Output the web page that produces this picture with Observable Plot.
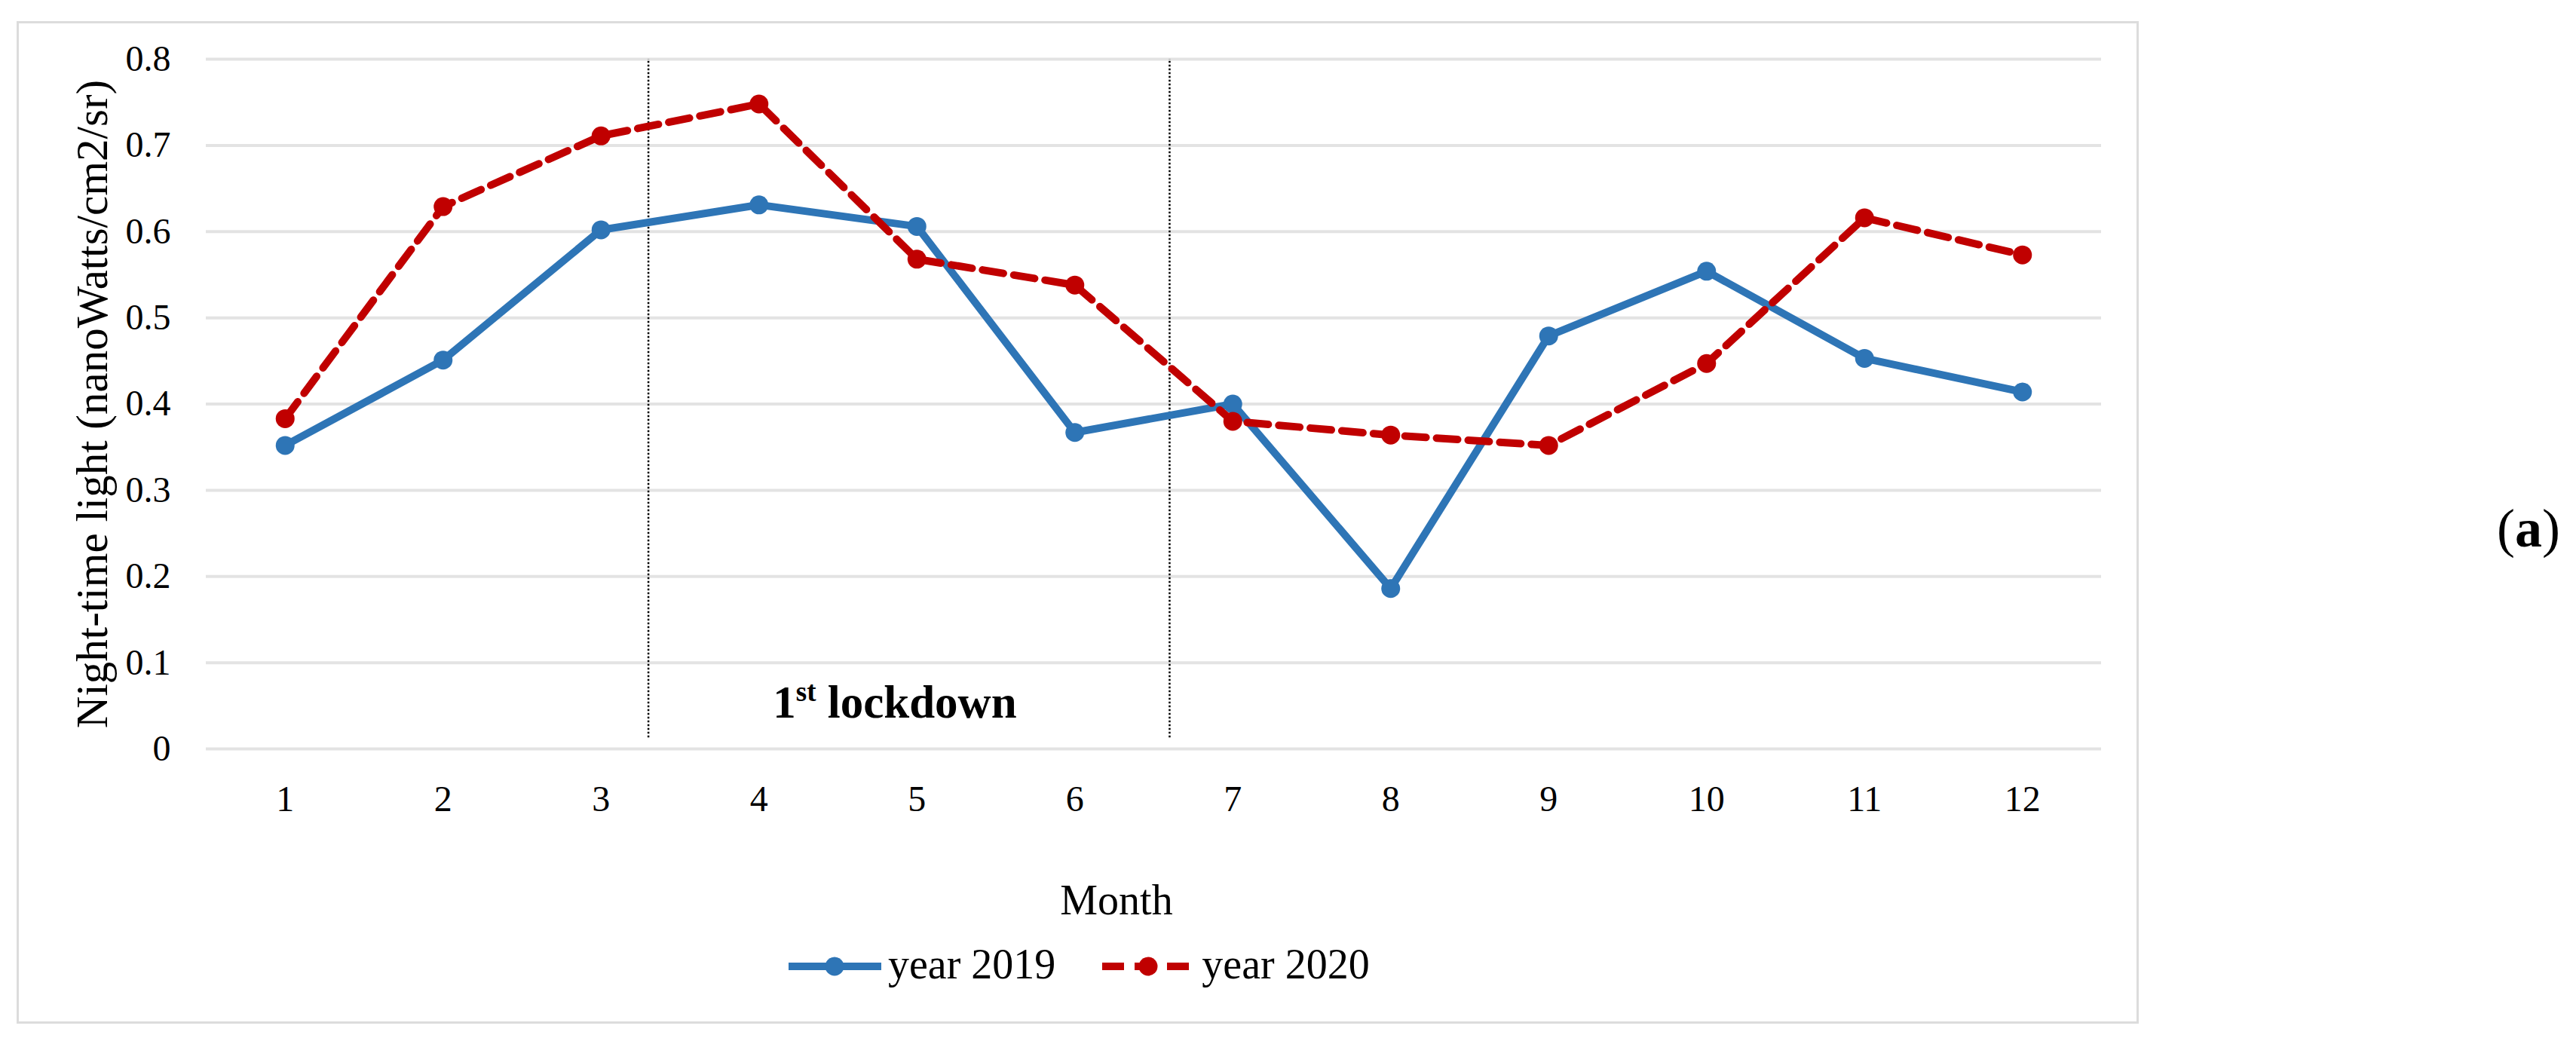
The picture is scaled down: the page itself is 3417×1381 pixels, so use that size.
<!DOCTYPE html>
<html>
<head>
<meta charset="utf-8">
<script src="https://cdn.jsdelivr.net/npm/d3@7"></script>
<script src="https://cdn.jsdelivr.net/npm/@observablehq/plot@0.6"></script>
<style>
  html, body { margin: 0; padding: 0; background: #fff; }
  #wrap { position: relative; width: 3417px; height: 1381px; overflow: hidden; font-family: "Liberation Serif", serif; color: #000; }
  #frame { position: absolute; left: 22px; top: 28px; width: 2815px; height: 1330px; border: 3px solid #dcdcdc; box-sizing: border-box; pointer-events: none; }
  #chart { position: absolute; left: 0; top: 0; }
  .lbl { position: absolute; line-height: 1; white-space: nowrap; }
  #month { left: 1231px; top: 1166px; width: 500px; text-align: center; font-size: 56px; }
  #legend { position: absolute; left: 1046px; top: 1251px; height: 56px; display: flex; align-items: flex-start; font-size: 56px; line-height: 1; }
  #legend .item { display: flex; align-items: flex-start; }
  #legend svg { display: block; }
  #panel { left: 3312px; top: 665px; font-size: 72px; }
</style>
</head>
<body>
<div id="wrap">
  <div id="chart"></div>
  <div id="frame"></div>
  <div id="month" class="lbl"></div>
  <div id="legend"></div>
  <div id="panel" class="lbl">(<b>a</b>)</div>
</div>
<script>
// ---- data ----
const months = [1, 2, 3, 4, 5, 6, 7, 8, 9, 10, 11, 12];
const values2019 = [0.352, 0.451, 0.602, 0.631, 0.606, 0.367, 0.400, 0.186, 0.479, 0.554, 0.453, 0.414];
const values2020 = [0.383, 0.629, 0.711, 0.748, 0.568, 0.538, 0.380, 0.364, 0.352, 0.447, 0.616, 0.573];
const yTicks = [0, 0.1, 0.2, 0.3, 0.4, 0.5, 0.6, 0.7, 0.8];
const lockdownBounds = [3.3, 6.6];
const seriesNames = ["year 2019", "year 2020"];
const seriesColors = ["#2E75B6", "#C00000"];
const yTitle = "Night-time light (nanoWatts/cm2/sr)";
const xTitle = "Month";
const annotation = "1st lockdown";

const data2019 = months.map((m, i) => ({month: m, value: values2019[i]}));
const data2020 = months.map((m, i) => ({month: m, value: values2020[i]}));

const chart = Plot.plot({
  width: 3417,
  height: 1381,
  marginLeft: 273,
  marginRight: 630,
  marginTop: 78,
  marginBottom: 388,
  style: {fontFamily: "Liberation Serif, serif", fontSize: "48px", color: "#000", background: "transparent", overflow: "visible"},
  x: {domain: [0.5, 12.5], label: null},
  y: {domain: [0, 0.8], label: null},
  marks: [
    Plot.gridY(yTicks, {stroke: "#e3e3e3", strokeOpacity: 1, strokeWidth: 4}),
    Plot.ruleX(lockdownBounds, {y1: 0.013, y2: 0.8, stroke: "#000", strokeWidth: 2.5, strokeDasharray: "2.5,2.5"}),
    Plot.line(data2019, {x: "month", y: "value", stroke: seriesColors[0], strokeWidth: 10, strokeLinejoin: "round"}),
    Plot.dot(data2019, {x: "month", y: "value", r: 12.5, fill: seriesColors[0], stroke: "none"}),
    Plot.line(data2020, {x: "month", y: "value", stroke: seriesColors[1], strokeWidth: 10, strokeDasharray: "28,14"}),
    Plot.dot(data2020, {x: "month", y: "value", r: 12.5, fill: seriesColors[1], stroke: "none"}),
    Plot.text([annotation], {x: 4.86, y: 0.0533, fontWeight: "bold", fontSize: 61, fill: "#000"}),
    Plot.axisX(months, {tickSize: 0, tickPadding: 48, tickFormat: d => String(d), label: null, fontSize: 48}),
    Plot.axisY(yTicks, {tickSize: 0, tickPadding: 47, tickFormat: d => d === 0 ? "0" : d.toFixed(1), label: null, fontSize: 48}),
    Plot.text([yTitle], {frameAnchor: "left", textAnchor: "middle", lineAnchor: "middle", rotate: -90, dx: -150, fontSize: 59, fill: "#000"})
  ]
});
document.getElementById("chart").appendChild(chart);

// superscript in annotation
chart.querySelectorAll("text").forEach(t => {
  if (t.textContent === annotation) {
    const ns = "http://www.w3.org/2000/svg";
    while (t.firstChild) t.removeChild(t.firstChild);
    const a = document.createElementNS(ns, "tspan"); a.textContent = "1";
    const b = document.createElementNS(ns, "tspan"); b.textContent = "st"; b.setAttribute("font-size", "37"); b.setAttribute("dy", "-22");
    const c = document.createElementNS(ns, "tspan"); c.textContent = " lockdown"; c.setAttribute("dy", "22");
    t.appendChild(a); t.appendChild(b); t.appendChild(c);
  }
});

document.getElementById("month").textContent = xTitle;

// legend
const legend = document.getElementById("legend");
const gaps = [62, 0];
seriesNames.forEach((name, i) => {
  const item = document.createElement("div");
  item.className = "item";
  item.style.marginRight = gaps[i] + "px";
  const svg = d3.create("svg").attr("width", 123).attr("height", 56);
  const ln = svg.append("line").attr("x1", 0).attr("x2", 123).attr("y1", 31).attr("y2", 31)
    .attr("stroke", seriesColors[i]).attr("stroke-width", 10);
  if (i === 1) ln.attr("stroke-dasharray", "29,14");
  svg.append("circle").attr("cx", 61).attr("cy", 31).attr("r", 12.5).attr("fill", seriesColors[i]);
  item.appendChild(svg.node());
  const sp = document.createElement("span");
  sp.textContent = name;
  sp.style.marginLeft = "9px";
  item.appendChild(sp);
  legend.appendChild(item);
});
</script>
</body>
</html>
